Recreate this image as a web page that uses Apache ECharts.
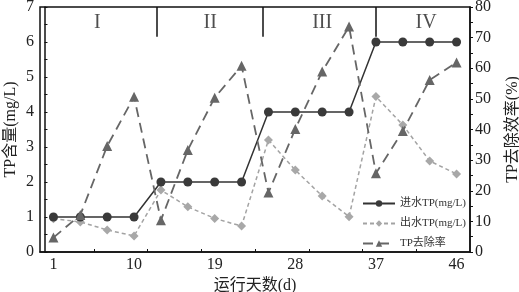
<!DOCTYPE html>
<html>
<head>
<meta charset="utf-8">
<script src="https://cdn.jsdelivr.net/npm/echarts@6/dist/echarts.min.js"></script>
<style>html,body{margin:0;padding:0;background:#fff;}#c{width:519px;height:292px;}</style>
</head>
<body>
<div id="c"></div>
<script>
var days = [1, 4, 7, 10, 13, 16, 19, 22, 25, 28, 31, 34, 37, 40, 43, 46];
var inflowTP = [1, 1, 1, 1, 2, 2, 2, 2, 4, 4, 4, 4, 6, 6, 6, 6];
var outflowTP = [0.95, 0.86, 0.63, 0.46, 1.77, 1.29, 0.96, 0.74, 3.2, 2.34, 1.6, 1.01, 4.44, 3.63, 2.6, 2.23];
var removalRate = [4.7, 12.1, 34.6, 50.7, 10.4, 33.3, 50.4, 60.8, 19.4, 40.2, 58.9, 73.6, 25.7, 39.5, 56.2, 61.9];
var xLabelValues = [1, 10, 19, 28, 37, 46];
var xTickValues = [5.5, 11.5, 17.5, 23.5, 29.5, 35.5, 41.5];
var phaseNames = ['I', 'II', 'III', 'IV'];
var phaseCenters = [5.9, 18.5, 31, 42.6];
var phaseBounds = [12.5, 24.4, 37];
var seriesNames = ['进水TP(mg/L)', '出水TP(mg/L)', 'TP去除率'];

function pairs(xs, ys) { return xs.map(function (x, i) { return [x, ys[i]]; }); }

var serif = '"Liberation Serif", "DejaVu Serif", "Noto Sans CJK SC", serif';
var chart = echarts.init(document.getElementById('c'));
chart.setOption({
  animation: false,
  backgroundColor: '#fff',
  grid: { left: 40, right: 49, top: 7, bottom: 40, outerBoundsMode: 'none', containLabel: false, show: true, borderColor: '#111', borderWidth: 1.5, backgroundColor: 'transparent' },
  legend: {
    orient: 'vertical', right: 53, bottom: 43, padding: 0, itemWidth: 32, itemHeight: 8, itemGap: 9,
    textStyle: { fontFamily: serif, fontSize: 11, color: '#333' },
    data: seriesNames
  },
  xAxis: {
    type: 'value', min: -0.5, max: 47.5,
    name: '运行天数(d)', nameLocation: 'middle', nameGap: 26,
    nameTextStyle: { fontFamily: serif, fontSize: 16, color: '#222' },
    axisLine: { lineStyle: { color: '#111', width: 1.5 } },
    axisTick: { show: true, inside: true, length: 3, customValues: xTickValues, lineStyle: { color: '#111' } },
    axisLabel: { customValues: xLabelValues, fontFamily: serif, fontSize: 16, color: '#222', margin: 5 },
    splitLine: { show: false }
  },
  yAxis: [{
    type: 'value', min: 0, max: 7, interval: 1,
    name: 'TP含量(mg/L)', nameLocation: 'middle', nameGap: 21, nameRotate: 90, nameMoveOverlap: false,
    nameTextStyle: { fontFamily: serif, fontSize: 16, color: '#222' },
    axisLine: { show: true, lineStyle: { color: '#111', width: 1.5 } },
    axisTick: { show: true, inside: true, length: 3, lineStyle: { color: '#111' } },
    minorTick: { show: true, splitNumber: 2, length: 3, lineStyle: { color: '#111' } },
    axisLabel: { fontFamily: serif, fontSize: 16, color: '#222', margin: 6 },
    splitLine: { show: false }
  }, {
    type: 'value', min: 0, max: 80, interval: 10, position: 'right',
    name: 'TP去除效率(%)', nameLocation: 'middle', nameGap: 35, nameRotate: 90,
    nameTextStyle: { fontFamily: serif, fontSize: 16, color: '#222' },
    axisLine: { show: true, lineStyle: { color: '#111', width: 1.5 } },
    axisTick: { show: true, inside: false, length: 3, lineStyle: { color: '#111' } },
    minorTick: { show: true, splitNumber: 2, length: 3, lineStyle: { color: '#111' } },
    axisLabel: { fontFamily: serif, fontSize: 16, color: '#222', margin: 5 },
    splitLine: { show: false }
  }],
  series: [{
    name: seriesNames[0], type: 'line', yAxisIndex: 0,
    data: pairs(days, inflowTP),
    symbol: 'circle', symbolSize: 9,
    lineStyle: { color: '#333', width: 1.5 },
    itemStyle: { color: '#3a3a3a' },
    z: 3
  }, {
    name: seriesNames[1], type: 'line', yAxisIndex: 0,
    data: pairs(days, outflowTP),
    symbol: 'diamond', symbolSize: 9,
    lineStyle: { color: '#a3a3a3', width: 1.5, type: [4, 3] },
    itemStyle: { color: '#a8a8a8' },
    z: 2
  }, {
    name: seriesNames[2], type: 'line', yAxisIndex: 1,
    data: pairs(days, removalRate),
    symbol: 'triangle', symbolSize: 10,
    lineStyle: { color: '#666', width: 1.8, type: [10, 6] },
    itemStyle: { color: '#666' },
    z: 4
  }, {
    name: 'phases', type: 'scatter', yAxisIndex: 0,
    data: phaseCenters.map(function (x, i) { return { value: [x, 6.55], name: phaseNames[i] }; }),
    symbolSize: 0, silent: true,
    label: { show: true, position: 'inside', formatter: '{b}', fontFamily: serif, fontSize: 20, color: '#222' },
    markLine: {
      silent: true, symbol: 'none', label: { show: false },
      lineStyle: { color: '#111', width: 1.5, type: 'solid' },
      data: phaseBounds.map(function (x) { return [{ coord: [x, 7] }, { coord: [x, 6.15] }]; })
    }
  }]
});
</script>
</body>
</html>
